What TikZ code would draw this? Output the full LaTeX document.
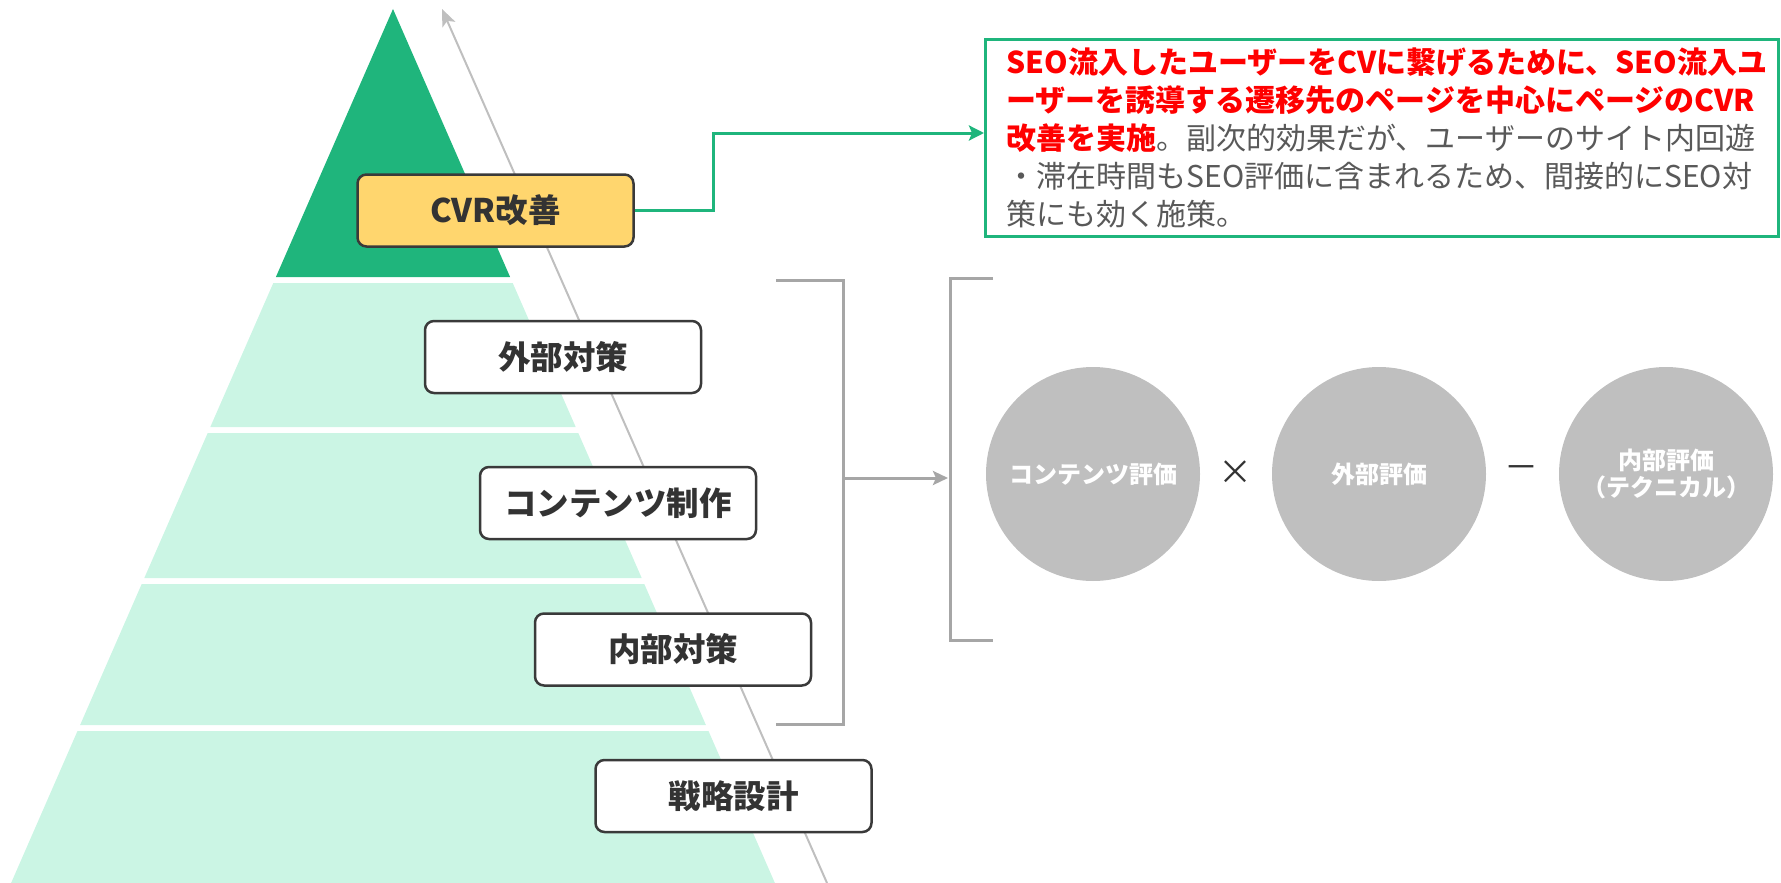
\documentclass[tikz,border=0pt]{standalone}
\usepackage{fontspec}
\setmainfont{Noto Sans CJK JP}
\usetikzlibrary{arrows.meta}
\definecolor{dgreen}{HTML}{1FB57C}
\definecolor{lgreen}{HTML}{CBF5E4}
\definecolor{yel}{HTML}{FFD66E}
\definecolor{bord}{HTML}{3A3A3A}
\definecolor{txt}{HTML}{333333}
\definecolor{cgray}{HTML}{BFBFBF}
\definecolor{bgray}{HTML}{A6A6A6}
\definecolor{hred}{HTML}{FF0000}
\definecolor{bodytxt}{HTML}{595959}
\tikzset{
  layerbox/.style={draw=bord, line width=2.5pt, rounded corners=9pt, fill=white,
    minimum width=276pt, minimum height=72pt, inner sep=0pt,
    font=\fontsize{32.5}{36}\selectfont\bfseries, text=txt},
  descbox/.style={draw=dgreen, line width=3pt, fill=white, minimum width=793pt,
    minimum height=196pt, text width=751pt, inner xsep=21pt, inner ysep=0pt,
    align=left, font=\fontsize{30}{38}\selectfont, text=bodytxt},
  evalcircle/.style={circle, fill=cgray, minimum size=214pt, inner sep=0pt,
    text=white, align=center, font=\fontsize{24}{27}\selectfont\bfseries},
  optxt/.style={inner sep=0pt, text=txt, font=\fontsize{34}{36}\selectfont},
  bracketline/.style={bgray, line width=3pt},
  grayarrow/.style={bgray, line width=3pt, -{Stealth[length=15pt,width=14pt,inset=3pt]}},
  axisarrow/.style={cgray, line width=2pt, -{Stealth[length=17pt,width=14pt,inset=4pt]}},
  greenarrow/.style={dgreen, line width=3pt, -{Stealth[length=15pt,width=15pt,inset=3pt]}}
}
\begin{document}
\begin{tikzpicture}[x=1pt,y=-1pt]
\useasboundingbox (0,0) rectangle (1781,883);
% pyramid
\fill[dgreen] (393,9) -- (510.1,277) -- (275.9,277) -- cycle;
\fill[lgreen] (273.3,283) -- (512.7,283) -- (575.7,427) -- (210.3,427) -- cycle;
\fill[lgreen] (207.7,433) -- (578.3,433) -- (641.7,578) -- (144.3,578) -- cycle;
\fill[lgreen] (141.7,584) -- (644.3,584) -- (705.9,725) -- (80.1,725) -- cycle;
\fill[lgreen] (77.5,731) -- (708.5,731) -- (774.9,883) -- (11.1,883) -- cycle;
% diagonal axis arrow
\coordinate (axb) at (827,883);
\coordinate (axt) at (442,9);
\draw[axisarrow] (axb) -- (axt);
% layer boxes
\node[layerbox, fill=yel] (cvr) at (495.5,210.5) {CVR改善};
\node[layerbox] (gaibu) at (563,357) {外部対策};
\node[layerbox] (content) at (618,503) {コンテンツ制作};
\node[layerbox] (naibu) at (673,649.5) {内部対策};
\node[layerbox] (senryaku) at (733.5,796) {戦略設計};
% description box
\node[descbox] (desc) at (1382,138) {%
{\bfseries\color{hred}SEO流入したユーザーをCVに繋げるために、SEO流入ユ}\\
{\bfseries\color{hred}ーザーを誘導する遷移先のページを中心にページのCVR}\\
{\bfseries\color{hred}改善を実施}。副次的効果だが、ユーザーのサイト内回遊\\
・滞在時間もSEO評価に含まれるため、間接的にSEO対\\
策にも効く施策。};
\coordinate (gk) at (713,133);
\draw[greenarrow] (cvr.east) -| (gk) -- (gk -| desc.west);
% brackets
\coordinate (rb1) at (776,280);
\coordinate (rb2) at (843,280);
\coordinate (rb3) at (843,724);
\coordinate (rb4) at (776,724);
\draw[bracketline] (rb1) -- (rb2) -- (rb3) -- (rb4);
\coordinate (lb1) at (993,278);
\coordinate (lb2) at (950,278);
\coordinate (lb3) at (950,640);
\coordinate (lb4) at (993,640);
\draw[bracketline] (lb1) -- (lb2) -- (lb3) -- (lb4);
\coordinate (brmid) at (843,478);
\coordinate (lbmid) at (948,478);
\draw[grayarrow] (brmid) -- (lbmid);
% evaluation circles
\node[evalcircle] (c1) at (1093,474) {コンテンツ評価};
\node[evalcircle] (c2) at (1379,474) {外部評価};
\node[evalcircle] (c3) at (1666,474) {内部評価\\（テクニカル）};
\node[optxt] (times) at (1235,473) {×};
\node[optxt] (minus) at (1521,473) {－};
\end{tikzpicture}
\end{document}
